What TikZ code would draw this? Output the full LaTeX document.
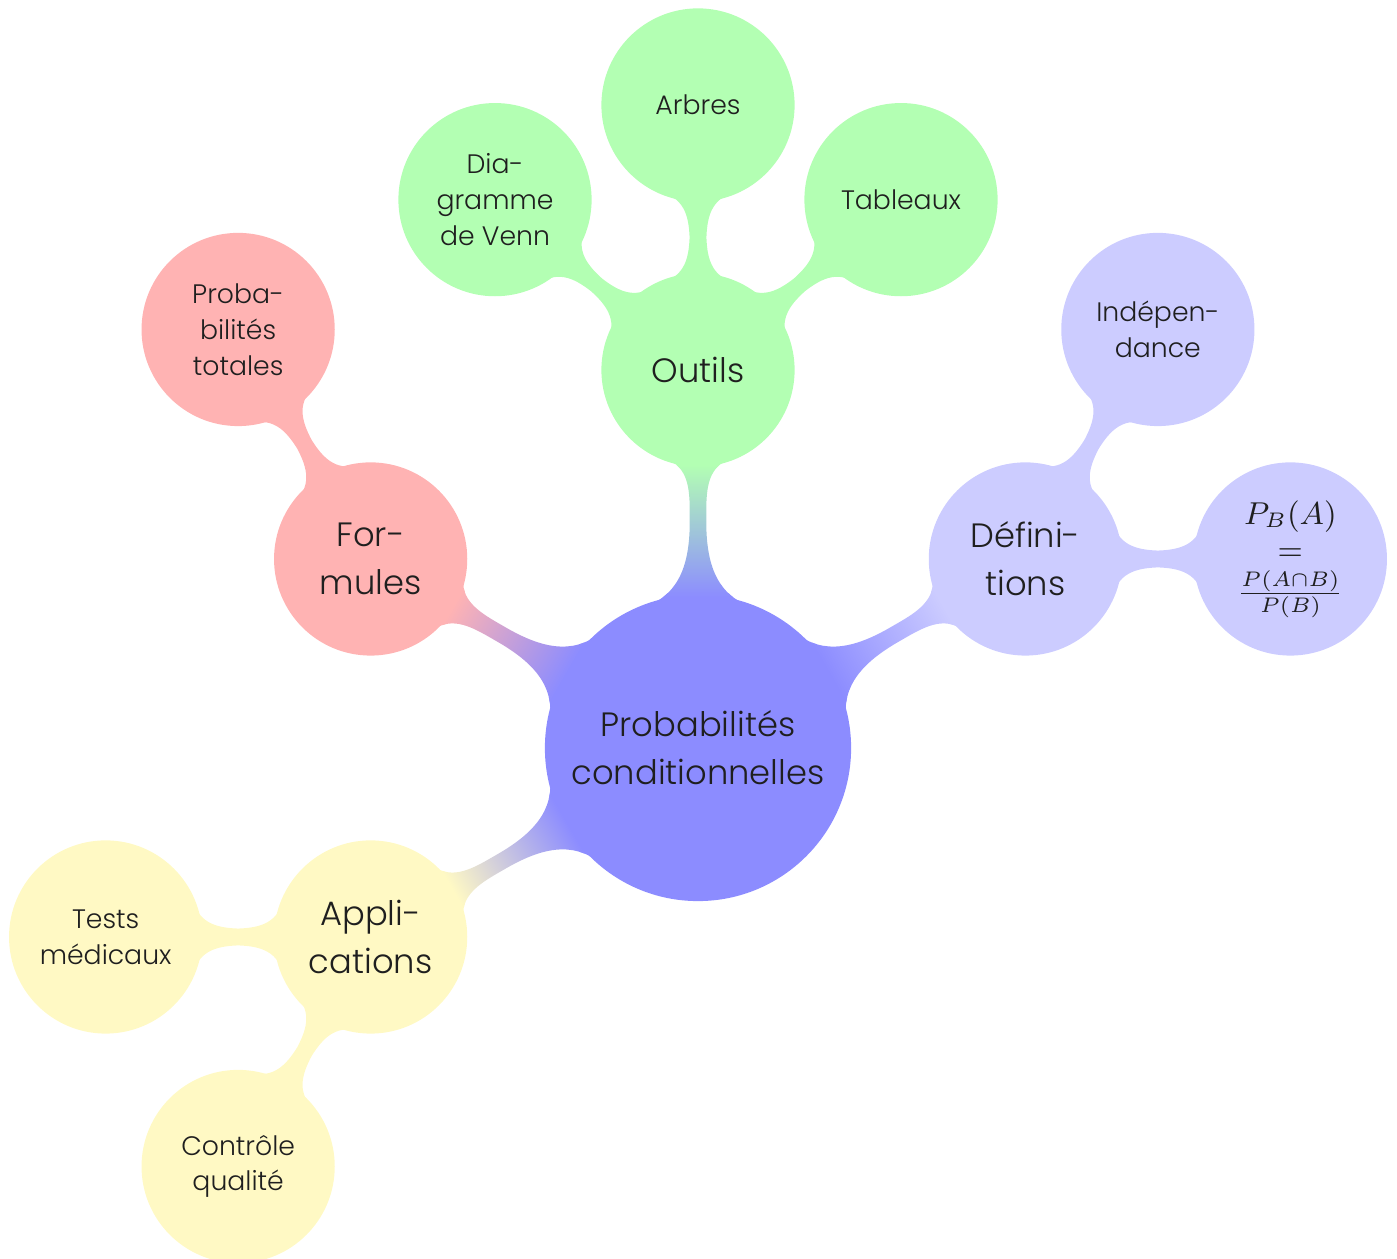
\documentclass[tikz,border=0pt]{standalone}
\usepackage[no-math]{fontspec}
\setmainfont{Poppins}[UprightFont=* Light]
\usetikzlibrary{mindmap}
\definecolor{croot}{RGB}{140,140,255}
\definecolor{cout}{RGB}{179,255,179}
\definecolor{cdef}{RGB}{204,204,255}
\definecolor{cfor}{RGB}{255,179,179}
\definecolor{capp}{RGB}{255,249,196}
\begin{document}
\begin{tikzpicture}[mindmap, text=black!88,
  rootc/.style={concept, minimum size=3.02cm, text width={}, align=center, inner sep=0pt, font=\fontsize{9.6}{13.7}\selectfont},
  lone/.style={concept, minimum size=1.89cm, text width={}, align=center, inner sep=0pt, font=\fontsize{9.6}{13.7}\selectfont},
  ltwo/.style={concept, minimum size=1.89cm, text width={}, align=center, inner sep=0pt, font=\fontsize{7.6}{10.2}\selectfont},
  lmath/.style={concept, minimum size=1.89cm, text width={}, align=center, inner sep=0pt, font=\fontsize{8.7}{10.2}\selectfont},
  level 1 concept/.append style={level distance=3.78cm},
  level 2 concept/.append style={level distance=2.65cm}]
\useasboundingbox (0,0) rectangle (13.97,12.59);
\path[concept color=croot] (6.98,5.11) node[rootc] (root) {Probabilités\\conditionnelles}
  child[grow=90, concept color=cout] { node[lone] (outils) {Outils}
     child[grow=140] { node[ltwo] (venn) {Dia-\\gramme\\de Venn} }
     child[grow=90] { node[ltwo] (arbres) {Arbres} }
     child[grow=40] { node[ltwo] (tableaux) {Tableaux} } }
  child[grow=30, concept color=cdef] { node[lone] (def) {Défini-\\tions}
     child[grow=60] { node[ltwo] (indep) {Indépen-\\dance} }
     child[grow=0] { node[lmath] (pba) {$P_B(A)$\\$=$\\[1.5pt]$\frac{P(A\cap B)}{P(B)}$} } }
  child[grow=150, concept color=cfor] { node[lone] (form) {For-\\mules}
     child[grow=120] { node[ltwo] (ptot) {Proba-\\bilités\\totales} } }
  child[grow=210, concept color=capp] { node[lone] (appl) {Appli-\\cations}
     child[grow=180] { node[ltwo] (tests) {Tests\\médicaux} }
     child[grow=240] { node[ltwo] (ctrl) {Contrôle\\qualité} } };
\end{tikzpicture}
\end{document}
